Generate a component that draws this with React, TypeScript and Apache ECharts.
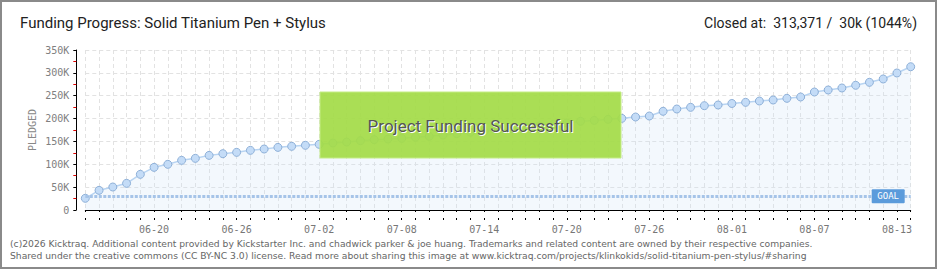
import React, { useEffect, useRef } from "react";
import * as echarts from "echarts";

const dates: string[] = [
  "06-15", "06-16", "06-17", "06-18", "06-19", "06-20", "06-21", "06-22", "06-23", "06-24",
  "06-25", "06-26", "06-27", "06-28", "06-29", "06-30", "07-01", "07-02", "07-03", "07-04",
  "07-05", "07-06", "07-07", "07-08", "07-09", "07-10", "07-11", "07-12", "07-13", "07-14",
  "07-15", "07-16", "07-17", "07-18", "07-19", "07-20", "07-21", "07-22", "07-23", "07-24",
  "07-25", "07-26", "07-27", "07-28", "07-29", "07-30", "07-31", "08-01", "08-02", "08-03",
  "08-04", "08-05", "08-06", "08-07", "08-08", "08-09", "08-10", "08-11", "08-12", "08-13",
  "08-14",
];

const pledged: number[] = [
  25600, 43000, 50300, 58300, 78000, 93300, 99900, 108600, 113000, 119500,
  123200, 126100, 130500, 133400, 137000, 139300, 141500, 143700, 146600, 148700,
  151700, 153900, 155300, 156800, 159000, 161200, 164000, 167000, 170000, 172500,
  175500, 178000, 181000, 184000, 187000, 190500, 194000, 196000, 198400, 200500,
  203400, 205600, 215900, 220900, 224600, 228200, 229700, 233000, 235500, 238400,
  240600, 244300, 247200, 258100, 262500, 266900, 272800, 279300, 286600, 299700,
  313371,
];

const goal = 30000;
const yTicks = { min: 0, max: 350000, interval: 50000 };
const titleText = "Funding Progress: Solid Titanium Pen + Stylus";
const closedText = "Closed at:  313,371 /  30k (1044%)";
const bannerText = "Project Funding Successful";
const footer1 =
  "(c)2026 Kicktraq. Additional content provided by Kickstarter Inc. and chadwick parker & joe huang. Trademarks and related content are owned by their respective companies.";
const footer2 =
  "Shared under the creative commons (CC BY-NC 3.0) license. Read more about sharing this image at www.kicktraq.com/projects/klinkokids/solid-titanium-pen-stylus/#sharing";

const NARROW = "Roboto, sans-serif";
const PIX = "'DejaVu Sans Mono', monospace";

export default function App() {
  const ref = useRef<HTMLDivElement>(null);
  useEffect(() => {
    if (!ref.current) return;
    const chart = echarts.init(ref.current, null, { renderer: "svg" });
    const labelIdx = (i: number) => i >= 5 && (i - 5) % 6 === 0;
    chart.setOption({
      animation: false,
      backgroundColor: "#ffffff",
      grid: { left: 85.3, right: 29.3, top: 50, bottom: 60, containLabel: false },
      xAxis: [
        {
          type: "category",
          data: dates,
          boundaryGap: false,
          position: "bottom",
          offset: 10,
          axisLine: { show: true, lineStyle: { color: "#000", width: 1 } },
          axisTick: { show: true, interval: 0, length: 2, lineStyle: { color: "#000" } },
          axisLabel: {
            interval: (i: number) => labelIdx(i),
            color: "#777",
            fontFamily: PIX,
            fontSize: 10,
            margin: 4,
          },
          splitLine: {
            show: true,
            interval: 0,
            lineStyle: { color: "#e2e2e2", type: [4, 3], width: 1 },
          },
        },
        {
          type: "category",
          data: dates,
          boundaryGap: false,
          position: "bottom",
          offset: 10,
          axisLine: { show: false },
          axisTick: { show: true, inside: true, interval: 0, length: 2, lineStyle: { color: "#000" } },
          axisLabel: { show: false },
          splitLine: { show: false },
        },
      ],
      yAxis: {
        type: "value",
        min: yTicks.min,
        max: yTicks.max,
        interval: yTicks.interval,
        offset: 9,
        axisLine: { show: true, lineStyle: { color: "#000", width: 1 } },
        axisTick: { show: true, length: 3, lineStyle: { color: "#000" } },
        minorTick: { show: true, splitNumber: 2, length: 3, lineStyle: { color: "#e00000" } },
        axisLabel: {
          color: "#808080",
          fontFamily: PIX,
          fontSize: 10,
          margin: 7,
          formatter: (v: number) => (v === 0 ? "0" : v / 1000 + "K"),
        },
        splitLine: { show: true, lineStyle: { color: "#e2e2e2", type: [4, 3], width: 1 } },
      },
      series: [
        {
          type: "line",
          data: pledged,
          symbol: "circle",
          symbolSize: 8,
          showSymbol: true,
          lineStyle: { color: "#b8d4f2", width: 1.5 },
          itemStyle: { color: "#c4dcf7", borderColor: "#8eb0d8", borderWidth: 1 },
          areaStyle: { color: "rgba(205,225,247,0.35)" },
          markLine: {
            silent: true,
            symbol: "none",
            label: { show: false },
            lineStyle: { color: "#a6c4e8", type: [3, 1.5], width: 3 },
            data: [{ yAxis: goal }],
          },
        },
      ],
    });

    const gy = chart.convertToPixel({ yAxisIndex: 0 }, goal) as number;
    const gx = chart.convertToPixel({ xAxisIndex: 0 }, dates.length - 1) as number;

    chart.setOption({
      graphic: [
        {
          type: "rect",
          id: "border",
          shape: { x: 1, y: 1, width: 935, height: 267 },
          style: { fill: "none", stroke: "#8a8a8a", lineWidth: 2 },
          z: 100,
        },
        {
          type: "text",
          id: "title",
          left: 20,
          top: 15,
          style: { text: titleText, font: `15px ${NARROW}`, fill: "#222" },
        },
        {
          type: "text",
          id: "closed",
          right: 23,
          top: 16,
          style: { text: closedText, font: `14px ${NARROW}`, fill: "#222" },
        },
        {
          type: "text",
          id: "pledged",
          x: 32,
          y: 130,
          rotation: Math.PI / 2,
          style: {
            text: "PLEDGED",
            font: `10px ${PIX}`,
            fill: "#888",
            align: "center",
            verticalAlign: "middle",
          },
        },
        {
          type: "rect",
          id: "goalBox",
          shape: { x: gx - 39, y: gy - 7, width: 33, height: 14, r: 1 },
          style: { fill: "#5b9bdb" },
          z: 50,
        },
        {
          type: "text",
          id: "goalText",
          x: gx - 22.5,
          y: gy,
          z: 51,
          style: {
            text: "GOAL",
            font: `9px ${PIX}`,
            fill: "#fff",
            align: "center",
            verticalAlign: "middle",
          },
        },
        {
          type: "rect",
          id: "banner",
          shape: { x: 320, y: 92, width: 301, height: 66 },
          style: { fill: "rgba(164,220,72,0.93)", stroke: "#c4ec86", lineWidth: 1 },
          z: 60,
        },
        {
          type: "text",
          id: "bannerShadow",
          x: 471.5,
          y: 127,
          z: 61,
          style: {
            text: bannerText,
            font: `17px ${NARROW}`,
            fill: "#ffffff",
            align: "center",
            verticalAlign: "middle",
          },
        },
        {
          type: "text",
          id: "bannerText",
          x: 470.5,
          y: 126,
          z: 62,
          style: {
            text: bannerText,
            font: `17px ${NARROW}`,
            fill: "#555555",
            align: "center",
            verticalAlign: "middle",
          },
        },
        {
          type: "text",
          id: "foot1",
          x: 10,
          y: 243,
          style: { text: footer1, font: `9.2px 'DejaVu Sans', sans-serif`, fill: "#666", verticalAlign: "middle" },
        },
        {
          type: "text",
          id: "foot2",
          x: 10,
          y: 255,
          style: { text: footer2, font: `9.2px 'DejaVu Sans', sans-serif`, fill: "#666", verticalAlign: "middle" },
        },
      ],
    });

    return () => chart.dispose();
  }, []);

  return (
    <div
      ref={ref}
      style={{ position: "fixed", left: 0, top: 0, width: 940, height: 270 }}
    />
  );
}
